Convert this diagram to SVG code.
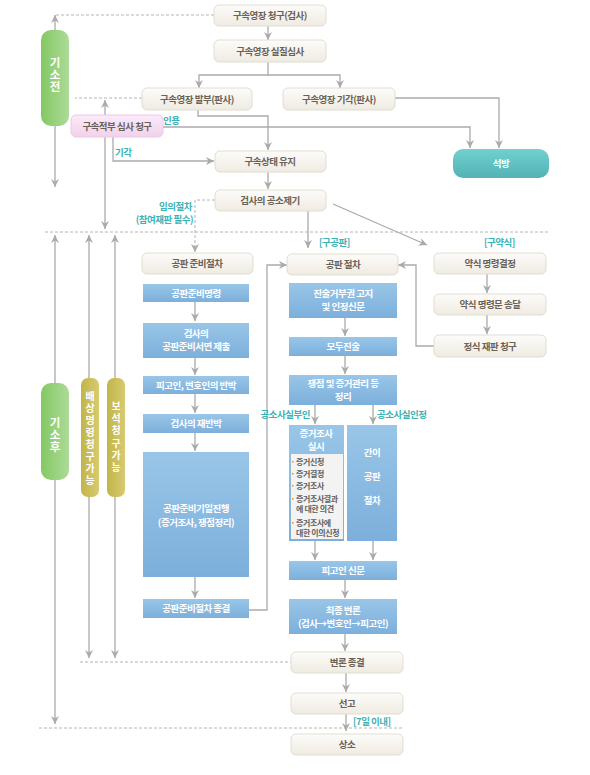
<svg xmlns="http://www.w3.org/2000/svg" width="590" height="775" viewBox="0 0 590 775">
<defs>
<linearGradient id="gBeige" x1="0" y1="0" x2="0" y2="1"><stop offset="0" stop-color="#fdfcf9"/><stop offset="1" stop-color="#efebe2"/></linearGradient>
<linearGradient id="gBlue" x1="0" y1="0" x2="0" y2="1"><stop offset="0" stop-color="#99c6e8"/><stop offset="1" stop-color="#7cafdb"/></linearGradient>
<linearGradient id="gTeal" x1="0" y1="0" x2="0" y2="1"><stop offset="0" stop-color="#72d1cf"/><stop offset="1" stop-color="#52b2b5"/></linearGradient>
<linearGradient id="gPink" x1="0" y1="0" x2="0" y2="1"><stop offset="0" stop-color="#fbeaf8"/><stop offset="1" stop-color="#f1d2ec"/></linearGradient>
<linearGradient id="gGreen" x1="0" y1="0" x2="1" y2="0"><stop offset="0" stop-color="#84c863"/><stop offset="1" stop-color="#acdb97"/></linearGradient>
<linearGradient id="gOlive" x1="0" y1="0" x2="1" y2="0"><stop offset="0" stop-color="#c2b548"/><stop offset="1" stop-color="#d7ca72"/></linearGradient>
<marker id="arr" viewBox="0 0 10 10" refX="10" refY="5" markerWidth="8" markerHeight="8" markerUnits="userSpaceOnUse" orient="auto"><path d="M0,0 L10,5 L0,10 L3,5 z" fill="#aaaaaa"/></marker>
</defs>
<style>
text{font-family:"Noto Sans CJK KR","Noto Sans",sans-serif;}
.bb{fill:url(#gBeige);stroke:#e1ddd3;stroke-width:1;}
.bt{fill:#6a6258;font-size:9.5px;font-weight:700;text-anchor:middle;letter-spacing:-0.5px;}
.bl{fill:url(#gBlue);}
.wt{fill:#ffffff;font-size:9.5px;font-weight:700;text-anchor:middle;letter-spacing:-0.5px;}
.lb{fill:#3db2b4;font-size:9.5px;font-weight:700;letter-spacing:-0.5px;}
.vt{fill:#ffffff;font-weight:700;text-anchor:middle;writing-mode:vertical-rl;}
.it{fill:#5f5f5f;font-size:8px;font-weight:700;letter-spacing:-0.4px;}
.ln{fill:none;stroke:#aaaaaa;stroke-width:1.3;}
.ar{marker-end:url(#arr);}
.ds{fill:none;stroke:#b4b4b4;stroke-width:1;stroke-dasharray:3,2;}
</style>

<g id="connectors">
<path class="ln ar" d="M268,26 V40"/>
<path class="ln ar" d="M268,62 V75 H199 V88"/>
<path class="ln ar" d="M268,75 H340 V88"/>
<path class="ln ar" d="M395,98 H499 V148"/>
<path class="ln ar" d="M163,127 H470 V148"/>
<path class="ln ar" d="M198,110 V116 H268 V150"/>
<path class="ln ar" d="M113,137 V161 H214"/>
<path class="ln ar" d="M268,172 V189"/>
<path class="ds ar" d="M215,200 H195 V252"/>
<path class="ln ar" d="M308,211 V248"/>
<path class="ln ar" d="M333,204 L427,245"/>
<path class="ds" d="M214,15 H55"/>
<path class="ln ar" d="M55,30 V15"/>
<path class="ln ar" d="M55,126 V187"/>
<path class="ds" d="M142,98 H75"/>
<path class="ln ar" d="M105,115 V100"/>
<path class="ln ar" d="M105,137 V229"/>
<path class="ds" d="M45,232 H548"/>
<path class="ln ar" d="M55,383 V235"/>
<path class="ln ar" d="M89,378 V235"/>
<path class="ln ar" d="M115,378 V235"/>
<path class="ln ar" d="M55,480 V724"/>
<path class="ln ar" d="M89,497 V658"/>
<path class="ln ar" d="M115,497 V658"/>
<path class="ds" d="M80,662 H291"/>
<path class="ds" d="M39,728 H402"/>
<path class="ln ar" d="M195,302 V321"/>
<path class="ln ar" d="M195,358 V375"/>
<path class="ln ar" d="M195,394 V413"/>
<path class="ln ar" d="M195,433 V451"/>
<path class="ln ar" d="M195,577 V598"/>
<path class="ln ar" d="M249,610 H267 V265 H287"/>
<path class="ln ar" d="M345,318 V336"/>
<path class="ln ar" d="M345,356 V374"/>
<path class="ln ar" d="M315,405 V424"/>
<path class="ln ar" d="M373,405 V424"/>
<path class="ln ar" d="M315,541 V560"/>
<path class="ln ar" d="M373,541 V560"/>
<path class="ln ar" d="M345,580 V598"/>
<path class="ln ar" d="M345,634 V651"/>
<path class="ln ar" d="M346,673 V692"/>
<path class="ln ar" d="M346,714 V731"/>
<path class="ln ar" d="M487,274 V293"/>
<path class="ln ar" d="M487,315 V334"/>
<path class="ln ar" d="M434,346 H416 V265 H398"/>
</g>

<g id="labels">
<text class="lb" x="163" y="124" font-size="10.5px">인용</text>
<text class="lb" x="115" y="156">기각</text>
<text class="lb" text-anchor="end"><tspan x="192" y="209.5">임의절차</tspan><tspan x="193" dy="13">(참여재판 필수)</tspan></text>
<text class="lb" x="319" y="246">[구공판]</text>
<text class="lb" x="484" y="246">[구약식]</text>
<text class="lb" x="310" y="418" text-anchor="end">공소사실부인</text>
<text class="lb" x="377" y="418">공소사실인정</text>
<text class="lb" x="353" y="725">[7일 이내]</text>
</g>

<g id="n-giso-jeon"><rect x="41" y="30" width="28" height="96" rx="10" fill="url(#gGreen)"/>
<text class="vt" font-size="11.5" letter-spacing="0.5" x="55" y="75">기소전</text></g>
<g id="n-giso-hu"><rect x="41" y="383" width="28" height="97" rx="10" fill="url(#gGreen)"/>
<text class="vt" font-size="11.5" letter-spacing="0.5" x="55" y="435">기소후</text></g>
<g id="n-baesang"><rect x="81" y="378" width="18" height="119" rx="7" fill="url(#gOlive)"/>
<text class="vt" font-size="10" letter-spacing="2" x="90" y="439">배상명령청구가능</text></g>
<g id="n-boseok"><rect x="107" y="378" width="18" height="119" rx="7" fill="url(#gOlive)"/>
<text class="vt" font-size="10" letter-spacing="2.3" x="116" y="438">보석청구가능</text></g>

<g id="n-cheonggu"><rect class="bb" x="214" y="5" width="112" height="21" rx="5"/><text class="bt" x="270" y="19">구속영장 청구(검사)</text></g>
<g id="n-siljil"><rect class="bb" x="214" y="40" width="112" height="22" rx="5"/><text class="bt" x="270" y="55">구속영장 실질심사</text></g>
<g id="n-balbu"><rect class="bb" x="142" y="88" width="110" height="22" rx="5"/><text class="bt" x="197" y="103">구속영장 발부(판사)</text></g>
<g id="n-gigak"><rect class="bb" x="283" y="88" width="112" height="22" rx="5"/><text class="bt" x="339" y="103">구속영장 기각(판사)</text></g>
<g id="n-jeokbu"><rect x="71" y="115" width="92" height="22" rx="5" fill="url(#gPink)" stroke="#eac8e6"/><text class="bt" x="117" y="130" fill="#6a5a66">구속적부 심사 청구</text></g>
<g id="n-seokbang"><rect x="453" y="149" width="96" height="29" rx="10" fill="url(#gTeal)"/><text class="wt" x="501" y="167">석방</text></g>
<g id="n-yuji"><rect class="bb" x="215" y="151" width="111" height="21" rx="5"/><text class="bt" x="270" y="165">구속상태 유지</text></g>
<g id="n-gongso"><rect class="bb" x="215" y="190" width="111" height="21" rx="5"/><text class="bt" x="270" y="204">검사의 공소제기</text></g>

<g id="n-junbi"><rect class="bb" x="142" y="253" width="111" height="21" rx="5"/><text class="bt" x="197" y="267">공판 준비절차</text></g>
<g id="n-b1"><rect class="bl" x="143" y="284" width="106" height="18"/><text class="wt" x="196" y="296.5">공판준비명령</text></g>
<g id="n-b2"><rect class="bl" x="143" y="323" width="106" height="35"/><text class="wt"><tspan x="196" y="337">검사의</tspan><tspan x="196" dy="13">공판준비서면 제출</tspan></text></g>
<g id="n-b3"><rect class="bl" x="143" y="376" width="106" height="18"/><text class="wt" x="196" y="388.5">피고인, 변호인의 반박</text></g>
<g id="n-b4"><rect class="bl" x="143" y="414" width="106" height="19"/><text class="wt" x="196" y="427">검사의 재반박</text></g>
<g id="n-b5"><rect class="bl" x="143" y="452" width="106" height="125"/><text class="wt"><tspan x="196" y="512">공판준비기일진행</tspan><tspan x="196" dy="14">(증거조사, 쟁점정리)</tspan></text></g>
<g id="n-b6"><rect class="bl" x="143" y="599" width="106" height="19"/><text class="wt" x="196" y="612">공판준비절차 종결</text></g>

<g id="n-gongpan"><rect class="bb" x="287" y="254" width="111" height="21" rx="5"/><text class="bt" x="343" y="268">공판 절차</text></g>
<g id="n-c1"><rect class="bl" x="289" y="283" width="108" height="35"/><text class="wt"><tspan x="343" y="297">진술거부권 고지</tspan><tspan x="343" dy="13">및 인정신문</tspan></text></g>
<g id="n-c2"><rect class="bl" x="289" y="337" width="108" height="19"/><text class="wt" x="343" y="350">모두진술</text></g>
<g id="n-c3"><rect class="bl" x="289" y="375" width="108" height="30"/><text class="wt"><tspan x="343" y="387">쟁점 및 증거관리 등</tspan><tspan x="343" dy="13">정리</tspan></text></g>
<g id="n-c4"><rect class="bl" x="289" y="425" width="55" height="116"/><text class="wt"><tspan x="316" y="437">증거조사</tspan><tspan x="316" dy="13">실시</tspan></text>
<rect x="291" y="454" width="52" height="85" fill="#f3f3f3"/>
<g fill="#f08a24"><rect x="292" y="461" width="1.5" height="1.5"/><rect x="292" y="473" width="1.5" height="1.5"/><rect x="292" y="485" width="1.5" height="1.5"/><rect x="292" y="498" width="1.5" height="1.5"/><rect x="292" y="522" width="1.5" height="1.5"/></g>
<text class="it"><tspan x="296" y="465">증거신청</tspan><tspan x="296" dy="12">증거결정</tspan><tspan x="296" dy="12">증거조사</tspan><tspan x="296" dy="13">증거조사결과</tspan><tspan x="296" dy="10">에 대한 의견</tspan><tspan x="296" dy="14">증거조사에</tspan><tspan x="296" dy="10">대한 이의신청</tspan></text></g>
<g id="n-c5"><rect class="bl" x="347" y="425" width="50" height="116"/><text class="wt"><tspan x="372" y="456">간이</tspan><tspan x="372" dy="24">공판</tspan><tspan x="372" dy="24">절차</tspan></text></g>
<g id="n-c6"><rect class="bl" x="289" y="561" width="108" height="19"/><text class="wt" x="343" y="574">피고인 신문</text></g>
<g id="n-c7"><rect class="bl" x="289" y="599" width="108" height="35"/><text class="wt"><tspan x="343" y="613.5">최종 변론</tspan><tspan x="343" dy="13">(검사→변호인→피고인)</tspan></text></g>
<g id="n-byeonron"><rect class="bb" x="291" y="652" width="112" height="21" rx="5"/><text class="bt" x="347" y="666">변론 종결</text></g>
<g id="n-seongo"><rect class="bb" x="291" y="693" width="112" height="21" rx="5"/><text class="bt" x="347" y="707">선고</text></g>
<g id="n-sangso"><rect class="bb" x="291" y="734" width="112" height="21" rx="5"/><text class="bt" x="347" y="748">상소</text></g>

<g id="n-r1"><rect class="bb" x="434" y="253" width="112" height="21" rx="5"/><text class="bt" x="490" y="267">약식 명령결정</text></g>
<g id="n-r2"><rect class="bb" x="434" y="294" width="112" height="21" rx="5"/><text class="bt" x="490" y="308">약식 명령문 송달</text></g>
<g id="n-r3"><rect class="bb" x="434" y="335" width="112" height="22" rx="5"/><text class="bt" x="490" y="350">정식 재판 청구</text></g>
</svg>
